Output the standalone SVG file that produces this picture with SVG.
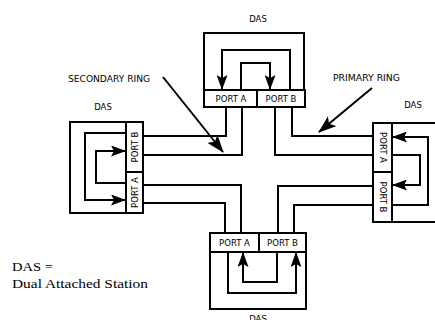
<svg xmlns="http://www.w3.org/2000/svg" width="435" height="320" viewBox="0 0 435 320">
<style>
.ln{fill:none;stroke:#000;stroke-width:2}
.bx{fill:#fff;stroke:#000;stroke-width:2}
.lb{font-family:"DejaVu Sans","Liberation Sans",sans-serif;font-size:8.5px;fill:#000}
.pt{font-family:"DejaVu Sans","Liberation Sans",sans-serif;font-size:8.5px;fill:#000;text-anchor:middle}
.sf{font-family:"Liberation Serif","Times New Roman",serif;font-size:12.5px;fill:#000}
</style>
<defs>
<marker id="ah" viewBox="0 0 15 11" markerWidth="15" markerHeight="11" refX="14" refY="5.5" orient="auto" markerUnits="userSpaceOnUse">
<path d="M0,0 L15,5.5 L0,11 L3,5.5 z" fill="#000"/>
</marker>
<marker id="ra" viewBox="0 0 18 13" markerWidth="18" markerHeight="13" refX="17" refY="6.5" orient="auto" markerUnits="userSpaceOnUse">
<path d="M0,0 L18,6.5 L0,13 L4,6.5 z" fill="#000"/>
</marker>
</defs>
<rect width="435" height="320" fill="#fff"/>

<g id="connectors">
<path class="ln" d="M143,136 H226 V107"/>
<path class="ln" d="M143,155 H242 V107"/>
<path class="ln" d="M275,107 V155 H373"/>
<path class="ln" d="M292,107 V136 H373"/>
<path class="ln" d="M143,185 H241 V233"/>
<path class="ln" d="M143,203 H225 V233"/>
<path class="ln" d="M278,233 V186 H373"/>
<path class="ln" d="M294,233 V205 H373"/>
</g>

<g id="das-top">
<rect class="bx" x="204" y="33" width="100" height="57"/>
<path class="ln" d="M290,90 V50 H222 V89" marker-end="url(#ah)"/>
<path class="ln" d="M241,90 V63 H270 V89" marker-end="url(#ah)"/>
<rect class="bx" x="204" y="90" width="53" height="17"/>
<rect class="bx" x="257" y="90" width="48" height="17"/>
<text class="pt" x="231" y="102">PORT A</text>
<text class="pt" x="281" y="102">PORT B</text>
<text class="pt" x="258" y="22">DAS</text>
</g>

<g id="das-left">
<rect class="bx" x="70" y="122" width="73" height="91"/>
<path class="ln" d="M126,133 H85 V200 H125" marker-end="url(#ah)"/>
<path class="ln" d="M126,183 H96 V151 H125" marker-end="url(#ah)"/>
<rect class="bx" x="126" y="122" width="17" height="50"/>
<rect class="bx" x="126" y="172" width="17" height="41"/>
<text class="pt" transform="translate(137.5,147) rotate(-90)">PORT B</text>
<text class="pt" transform="translate(137.5,192.5) rotate(-90)">PORT A</text>
<text class="pt" x="103" y="110">DAS</text>
</g>

<g id="das-right">
<rect class="bx" x="373" y="123" width="80" height="99"/>
<path class="ln" d="M392,205 H428 V137 H393" marker-end="url(#ah)"/>
<path class="ln" d="M392,155 H420 V185 H393" marker-end="url(#ah)"/>
<rect class="bx" x="373" y="123" width="19" height="49"/>
<rect class="bx" x="373" y="172" width="19" height="50"/>
<text class="pt" transform="translate(379.5,147.5) rotate(90)">PORT A</text>
<text class="pt" transform="translate(379.5,197) rotate(90)">PORT B</text>
<text class="pt" x="413" y="108">DAS</text>
</g>

<g id="das-bottom">
<rect class="bx" x="210" y="252" width="96" height="57"/>
<path class="ln" d="M228,252 V293 H296 V253" marker-end="url(#ah)"/>
<path class="ln" d="M277,252 V282 H243 V253" marker-end="url(#ah)"/>
<rect class="bx" x="210" y="233" width="49" height="19"/>
<rect class="bx" x="259" y="233" width="47" height="19"/>
<text class="pt" x="234.5" y="245.5">PORT A</text>
<text class="pt" x="282.5" y="245.5">PORT B</text>
<text class="pt" x="258" y="322">DAS</text>
</g>

<g id="labels">
<text class="lb" x="68" y="82" textLength="82" lengthAdjust="spacingAndGlyphs">SECONDARY RING</text>
<path class="ln" d="M163,77 L223,152" marker-end="url(#ra)"/>
<text class="lb" x="333" y="81" textLength="67" lengthAdjust="spacingAndGlyphs">PRIMARY RING</text>
<path class="ln" d="M372,88 L319,132" marker-end="url(#ra)"/>
<text class="sf" x="12" y="271" textLength="41" lengthAdjust="spacingAndGlyphs">DAS =</text>
<text class="sf" x="12" y="288" textLength="136" lengthAdjust="spacingAndGlyphs">Dual Attached Station</text>
</g>
</svg>
